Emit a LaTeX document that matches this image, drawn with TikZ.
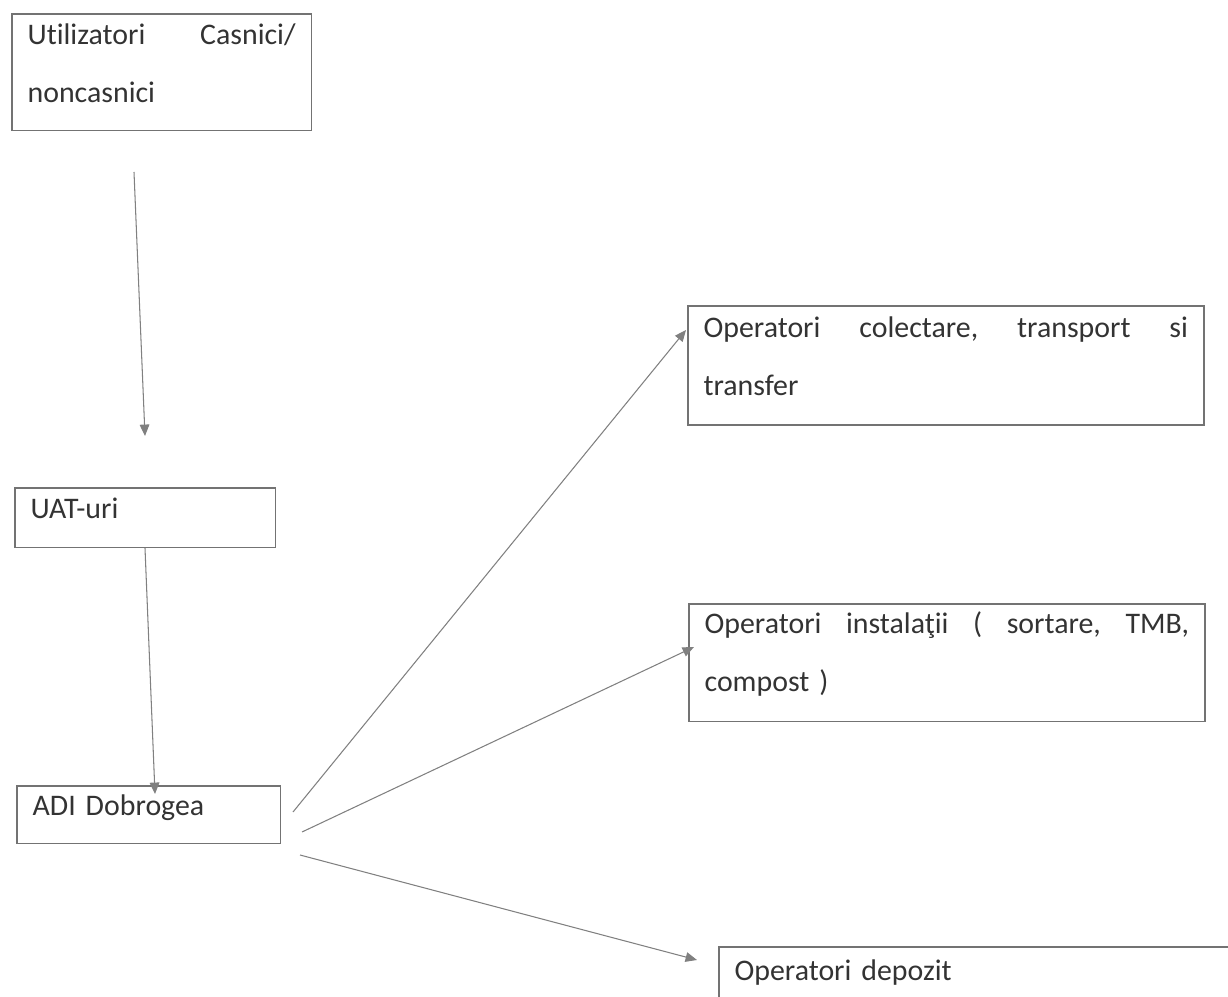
\documentclass[tikz,border=0pt]{standalone}
\usepackage{fontspec}
\setmainfont{Carlito}[Ligatures=NoCommon]
\usetikzlibrary{arrows.meta}

\begin{document}
\begin{tikzpicture}[x=0.02cm,y=-0.02cm,font=\fontsize{17}{33}\selectfont,
        cadru/.style={draw=black!55,line width=0.9pt,anchor=north west,align=left,inner xsep=9pt,inner ysep=0pt,text=black!80},
        sageata/.style={draw=black!50,line width=0.6pt,-{Triangle[length=6.5pt,width=5.5pt]}}]
        \useasboundingbox (0,0) rectangle (1228,997);
        \clip (0,0) rectangle (1228,997);
        \begin{scope}
            \node[cadru,text width=152.6pt,text height=17.6pt,text depth=48.8pt] (utiliz) at (11,13) {Utilizatori\hfill Casnici/\\noncasnici};
            \node[cadru,text width=130.5pt,text height=17.6pt,text depth=16.4pt] (uat) at (14,487) {UAT-uri};
            \node[cadru,text width=132.2pt,text height=17pt,text depth=15.9pt] (adi) at (16,785) {ADI Dobrogea};
            \node[cadru,text width=275.7pt,text height=18.1pt,text depth=49.9pt] (colect) at (687,305) {Operatori\hfill colectare,\hfill transport\hfill si\hspace*{8pt}\\transfer};
            \node[cadru,text width=275.7pt,text height=17pt,text depth=49.9pt] (instal) at (688,603) {Operatori\hfill instalaţii\hfill (\hfill sortare,\hfill TMB,\\compost )};
            \node[cadru,text width=299.5pt,text height=19.3pt,text depth=40pt] (depozit) at (718,946) {Operatori depozit};
        \end{scope}
        \begin{scope}
            \coordinate (s1) at (134,172);
            \coordinate (t1) at (145,436);
            \coordinate (s2) at (145,548);
            \coordinate (t2) at (155,794);
            \coordinate (s3) at (293,812);
            \coordinate (t3) at (686,330);
            \coordinate (s4) at (302,832);
            \coordinate (t4) at (694,647);
            \coordinate (s5) at (300,855);
            \coordinate (t5) at (697,960);
            \draw[sageata] (s1) -- (t1);
            \draw[sageata] (s2) -- (t2);
            \draw[sageata] (s3) -- (t3);
            \draw[sageata] (s4) -- (t4);
            \draw[sageata] (s5) -- (t5);
        \end{scope}
    \end{tikzpicture}
\end{document}
